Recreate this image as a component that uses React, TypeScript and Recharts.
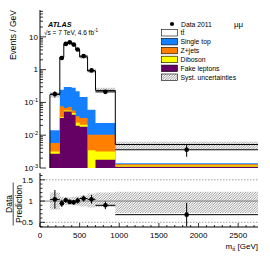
import React from 'react';
import { ComposedChart, Area, Scatter, ErrorBar, XAxis, YAxis, ReferenceLine } from 'recharts';

const FONT = '"Liberation Sans", Arial, Helvetica, sans-serif';

// m_tt bin edges [GeV]
const binEdges = [125, 250, 300, 350, 400, 450, 500, 600, 700, 950, 2750];

// predictions per bin, events / GeV
const ttbar = [0.159, 2.155, 5.7, 6.6, 5.72, 3.84, 2.3, 0.85, 0.209, 0.0038];
const singleTop = [0.0083, 0.169, 0.229, 0.225, 0.223, 0.18, 0.1135, 0.0496, 0.0133, 0.0001];
const zJets = [0.0026, 0.04, 0.011, 0.015, 0.009, 0.014, 0.0125, 0.0068, 0.0072, 0.0001];
const diboson = [0.0005, 0.0025, 0.004, 0.004, 0.006, 0.0044, 0.003, 0.0031, 0.0014, 0.0001];
const fakeLeptons = [0.0027, 0.0335, 0.053, 0.053, 0.042, 0.0196, 0.018, 0.0004, 0.0018, 0.0011];

// relative systematic band (prediction x factor)
const systDown = [0.8, 0.9, 0.91, 0.91, 0.9, 0.89, 0.87, 0.85, 0.86, 0.72];
const systUp = [1.2, 1.1, 1.09, 1.09, 1.1, 1.11, 1.13, 1.18, 1.2, 1.22];

// data 2011
const data2011 = [0.18, 2.27, 6.1, 6.8, 5.8, 4.1, 2.6, 0.95, 0.21, 0.0036];
const dataErr = [0.038, 0.21, 0.35, 0.37, 0.34, 0.29, 0.17, 0.095, 0.021, 0.0014];

// data / prediction
const ratio = [1.04, 0.945, 1.02, 0.98, 0.97, 1.01, 1.06, 1.04, 0.9, 0.68];
const ratioErr = [0.22, 0.085, 0.058, 0.053, 0.057, 0.07, 0.07, 0.1, 0.09, 0.28];

// axes
const X_MAX = 2750;
const xMajor = [0, 500, 1000, 1500, 2000, 2500];
const xTicks = Array.from({ length: 28 }, (_, i) => i * 100);
const Y_MIN = 0.001;
const Y_MAX = 66;
const logDecades = [0.001, 0.01, 0.1, 1, 10];
const logLabels = [['10', '-3'], ['10', '-2'], ['10', '-1'], ['1', ''], ['10', '']];
const logTicks = logDecades
  .flatMap((d) => [1, 2, 3, 4, 5, 6, 7, 8, 9].map((k) => +(d * k).toPrecision(3)))
  .filter((v) => v <= Y_MAX);
const ratioMajor = [0.5, 1, 1.5];
const ratioTicks = Array.from({ length: 13 }, (_, i) => Math.round((0.4 + i * 0.1) * 10) / 10);

const FLOOR = 0.0004;
const nBins = binEdges.length - 1;

// cumulative stack, drawn as overlapping step areas
const stack = ttbar.map((_, i) => {
  const f = fakeLeptons[i];
  const d = f + diboson[i];
  const z = d + zJets[i];
  const s = z + singleTop[i];
  const t = s + ttbar[i];
  return { f, d, z, s, t, syst: [t * systDown[i], t * systUp[i]] };
});

const stepRows = [
  { x: binEdges[0], f: FLOOR, d: FLOOR, z: FLOOR, s: FLOOR, t: FLOOR, syst: [FLOOR, FLOOR] },
  ...stack.map((row, i) => ({ x: binEdges[i], ...row })),
  { x: binEdges[nBins], ...stack[nBins - 1] },
];

const bandRows = [
  ...systDown.map((lo, i) => ({ x: binEdges[i], band: [lo, systUp[i]] })),
  { x: binEdges[nBins], band: [systDown[nBins - 1], systUp[nBins - 1]] },
];

const binPoint = (i: number) => {
  const lo = binEdges[i];
  const hi = binEdges[i + 1];
  const xc = (lo + hi) / 2;
  return { x: xc, ex: [xc - lo, hi - xc] };
};

const dataRows = data2011.map((v, i) => ({ ...binPoint(i), y: v, ey: dataErr[i] }));
const ratioRows = ratio.map((v, i) => ({ ...binPoint(i), y: v, ey: ratioErr[i] }));

const near = (list: number[], v: number) => list.some((m) => Math.abs(m - v) < 1e-9);

// inward ticks (ATLAS style). dir: +1 down/right, -1 up/left
const xTick = (dir: number, big: number, small: number, label: boolean) => (p: any) => {
  const { x, y, payload } = p;
  const major = near(xMajor, payload.value);
  return (
    <g>
      <line x1={x} x2={x} y1={y} y2={y + dir * (major ? big : small)} stroke="#000" strokeWidth={0.8} />
      {label && major && (
        <text x={x} y={y + 10.5} textAnchor="middle" fontSize={8} fontFamily={FONT} fill="#000">
          {payload.value}
        </text>
      )}
    </g>
  );
};

const logTick = (dir: number, label: boolean) => (p: any) => {
  const { x, y, payload } = p;
  const idx = logDecades.findIndex((d) => Math.abs(d - payload.value) / d < 1e-6);
  const major = idx >= 0;
  return (
    <g>
      <line x1={x} x2={x + dir * (major ? 6 : 3)} y1={y} y2={y} stroke="#000" strokeWidth={0.8} />
      {label && major && (
        <text x={x - 2} y={y} dy="0.35em" textAnchor="end" fontSize={8} fontFamily={FONT} fill="#000">
          {logLabels[idx][0]}
          {logLabels[idx][1] && (
            <tspan dy="-0.5em" fontSize={5.5}>
              {logLabels[idx][1]}
            </tspan>
          )}
        </text>
      )}
    </g>
  );
};

const ratioTick = (dir: number, label: boolean) => (p: any) => {
  const { x, y, payload } = p;
  const major = near(ratioMajor, payload.value);
  return (
    <g>
      <line x1={x} x2={x + dir * (major ? 5 : 2.5)} y1={y} y2={y} stroke="#000" strokeWidth={0.8} />
      {label && major && (
        <text x={x - 7} y={y} dy="0.35em" textAnchor="end" fontSize={8} fontFamily={FONT} fill="#000">
          {payload.value}
        </text>
      )}
    </g>
  );
};

const dot = (p: any) => <circle cx={p.cx} cy={p.cy} r={2.3} fill="#000" />;

const Hatch = ({ id }: { id: string }) => (
  <pattern id={id} patternUnits="userSpaceOnUse" width={2.5} height={2.5}>
    <path d="M-0.6,0.6 L0.6,-0.6 M0,2.5 L2.5,0 M1.9,3.1 L3.1,1.9" stroke="#333" strokeWidth={0.5} />
  </pattern>
);

const COLORS = {
  singleTop: '#1580ff',
  zJets: '#ff7f00',
  diboson: '#ffff00',
  fake: '#650065',
};

const legendRows = [
  { label: 'tt\u0304', fill: '#fff' },
  { label: 'Single top', fill: COLORS.singleTop },
  { label: 'Z+jets', fill: COLORS.zJets },
  { label: 'Diboson', fill: COLORS.diboson },
  { label: 'Fake leptons', fill: COLORS.fake },
  { label: 'Syst. uncertainties', fill: 'url(#hatchL)' },
];

const axisCommon = { tickSize: 0, tickMargin: 0, tickLine: false, interval: 0 as const, allowDataOverflow: true, axisLine: { stroke: '#000', strokeWidth: 1 } };

export default function App() {
  return (
    <div style={{ position: 'absolute', left: 0, top: 0, width: 270, height: 259, background: '#fff', fontFamily: FONT }}>
      <div style={{ position: 'absolute', left: 0, top: 0 }}>
        <ComposedChart width={270} height={180} data={stepRows} margin={{ top: 10, right: 12, bottom: 12, left: 0 }}>
          <defs>
            <Hatch id="hatchM" />
          </defs>
          <XAxis dataKey="x" type="number" domain={[0, X_MAX]} ticks={xTicks} height={0} tick={xTick(-1, 5, 2.5, false)} {...axisCommon} />
          <XAxis xAxisId="top" orientation="top" type="number" domain={[0, X_MAX]} ticks={xTicks} height={0} tick={xTick(1, 5, 2.5, false)} {...axisCommon} />
          <YAxis yAxisId="l" type="number" scale="log" domain={[Y_MIN, Y_MAX]} ticks={logTicks} width={40} tick={logTick(1, true)} {...axisCommon} />
          <YAxis yAxisId="r" orientation="right" type="number" scale="log" domain={[Y_MIN, Y_MAX]} ticks={logTicks} width={0} tick={logTick(-1, false)} {...axisCommon} />

          <Area yAxisId="l" type="stepAfter" dataKey="t" fill="#fff" fillOpacity={1} stroke="none" baseValue={Y_MIN} isAnimationActive={false} />
          <Area yAxisId="l" type="stepAfter" dataKey="s" fill={COLORS.singleTop} fillOpacity={1} stroke="none" baseValue={Y_MIN} isAnimationActive={false} />
          <Area yAxisId="l" type="stepAfter" dataKey="z" fill={COLORS.zJets} fillOpacity={1} stroke="none" baseValue={Y_MIN} isAnimationActive={false} />
          <Area yAxisId="l" type="stepAfter" dataKey="d" fill={COLORS.diboson} fillOpacity={1} stroke="none" baseValue={Y_MIN} isAnimationActive={false} />
          <Area yAxisId="l" type="stepAfter" dataKey="f" fill={COLORS.fake} fillOpacity={1} stroke="none" baseValue={Y_MIN} isAnimationActive={false} />
          <Area yAxisId="l" type="stepAfter" dataKey="syst" fill="url(#hatchM)" fillOpacity={1} stroke="none" isAnimationActive={false} />
          <Area yAxisId="l" type="stepAfter" dataKey="t" fill="none" stroke="#000" strokeWidth={1} baseValue={Y_MIN} isAnimationActive={false} />

          <Scatter yAxisId="l" data={dataRows} dataKey="y" shape={dot} isAnimationActive={false}>
            <ErrorBar dataKey="ey" direction="y" width={0} stroke="#000" strokeWidth={1} />
            <ErrorBar dataKey="ex" direction="x" width={0} stroke="#000" strokeWidth={1} />
          </Scatter>
        </ComposedChart>
      </div>

      <div style={{ position: 'absolute', left: 0, top: 168 }}>
        <ComposedChart width={270} height={91} data={bandRows} margin={{ top: 5, right: 12, bottom: 0, left: 0 }}>
          <defs>
            <Hatch id="hatchR" />
          </defs>
          <XAxis dataKey="x" type="number" domain={[0, X_MAX]} ticks={xTicks} height={32} tick={xTick(-1, 4, 2, true)} {...axisCommon} />
          <XAxis xAxisId="top" orientation="top" type="number" domain={[0, X_MAX]} ticks={xTicks} height={0} tick={xTick(1, 4, 2, false)} {...axisCommon} />
          <YAxis yAxisId="l" type="number" domain={[0.39, 1.66]} ticks={ratioTicks} width={40} tick={ratioTick(1, true)} {...axisCommon} />
          <YAxis yAxisId="r" orientation="right" type="number" domain={[0.39, 1.66]} ticks={ratioTicks} width={0} tick={ratioTick(-1, false)} {...axisCommon} />

          <ReferenceLine yAxisId="l" y={1.5} stroke="#888" strokeDasharray="1.5 1.5" strokeWidth={0.8} />
          <ReferenceLine yAxisId="l" y={0.5} stroke="#888" strokeDasharray="1.5 1.5" strokeWidth={0.8} />
          <ReferenceLine yAxisId="l" y={1} stroke="#666" strokeWidth={0.8} />
          <Area yAxisId="l" type="stepAfter" dataKey="band" fill="url(#hatchR)" fillOpacity={1} stroke="none" isAnimationActive={false} />

          <Scatter yAxisId="l" data={ratioRows} dataKey="y" shape={dot} isAnimationActive={false}>
            <ErrorBar dataKey="ey" direction="y" width={0} stroke="#000" strokeWidth={1} />
            <ErrorBar dataKey="ex" direction="x" width={0} stroke="#000" strokeWidth={1} />
          </Scatter>
        </ComposedChart>
      </div>

      <svg width={270} height={259} style={{ position: 'absolute', left: 0, top: 0, pointerEvents: 'none' }} fontFamily={FONT}>
        <defs>
          <Hatch id="hatchL" />
        </defs>
        <text transform="translate(16,10) rotate(-90)" textAnchor="end" fontSize={8.5} fill="#000">
          Events / GeV
        </text>
        <g transform="translate(12,204) rotate(-90)">
          <text x={0} y={0} textAnchor="middle" fontSize={8.5} fill="#000">Data</text>
          <line x1={-21.5} x2={21.5} y1={1.2} y2={1.2} stroke="#000" strokeWidth={0.7} />
          <text x={0} y={9.5} textAnchor="middle" fontSize={8.5} fill="#000">Prediction</text>
        </g>
        <text x={258} y={249} textAnchor="end" fontSize={8} fill="#000">
          m<tspan dy={2} fontSize={5.5}>{'tt\u0304'}</tspan>
          <tspan dy={-2}> [GeV]</tspan>
        </text>

        <text x={48} y={26.5} fontSize={7.2} fontWeight="bold" fontStyle="italic" fill="#000">ATLAS</text>
        <text x={44} y={34.5} fontSize={6.5} fill="#000">
          {'\u221as = 7 TeV, 4.6 fb'}
          <tspan dy={-2.5} fontSize={4.5}>-1</tspan>
        </text>

        <circle cx={172} cy={24} r={2.1} fill="#000" />
        <text x={181} y={26.5} fontSize={6.8} fill="#000">Data 2011</text>
        <text x={234} y={26.5} fontSize={8} fill="#000">{'\u03bc\u03bc'}</text>
        {legendRows.map((r, i) => (
          <g key={r.label}>
            <rect x={161.5} y={29.5 + i * 8.9} width={16} height={6.5} fill={r.fill} stroke="#000" strokeWidth={0.6} />
            <text x={180.5} y={35.3 + i * 8.9} fontSize={6.8} fill="#000">{r.label}</text>
          </g>
        ))}
      </svg>
    </div>
  );
}
